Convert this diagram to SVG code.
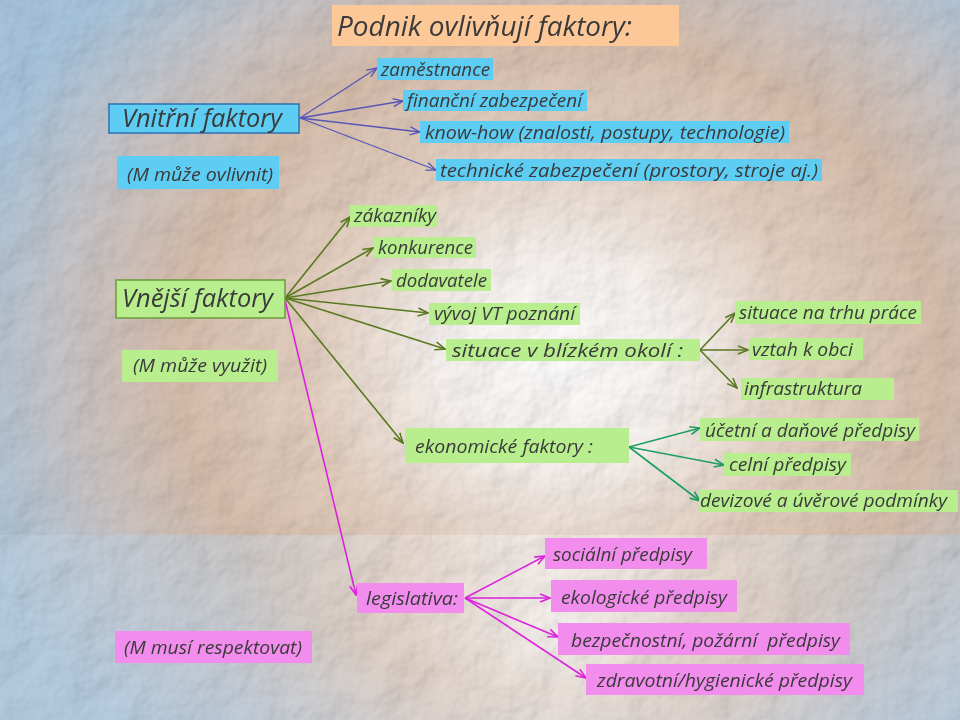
<svg xmlns="http://www.w3.org/2000/svg" width="960" height="720" viewBox="0 0 960 720">
<defs>
<radialGradient id="bg" cx="560" cy="360" r="620" gradientUnits="userSpaceOnUse" gradientTransform="translate(560 360) scale(1 0.85) translate(-560 -360)">
<stop offset="0" stop-color="#FFFFFF"/>
<stop offset="0.2" stop-color="#F8F3F0"/>
<stop offset="0.4" stop-color="#E6D2C3"/>
<stop offset="0.62" stop-color="#D8BFAD"/>
<stop offset="0.8" stop-color="#CAC6C8"/>
<stop offset="1" stop-color="#A9C6DF"/>
</radialGradient>
<radialGradient id="glow" cx="560" cy="620" r="330" gradientUnits="userSpaceOnUse">
<stop offset="0" stop-color="#FFFFFF" stop-opacity="0.8"/>
<stop offset="0.5" stop-color="#F2F0F0" stop-opacity="0.4"/>
<stop offset="1" stop-color="#C4D6E6" stop-opacity="0.5"/>
</radialGradient>
<filter id="tex" x="0" y="0" width="100%" height="100%" filterUnits="userSpaceOnUse">
<feTurbulence type="fractalNoise" baseFrequency="0.022" numOctaves="4" seed="7" result="n"/>
<feDiffuseLighting in="n" lighting-color="#ffffff" surfaceScale="6" result="l">
<feDistantLight azimuth="225" elevation="45"/>
</feDiffuseLighting>
</filter>
<marker id="mb" viewBox="0 0 12 10" refX="11" refY="5" markerWidth="12" markerHeight="10" markerUnits="userSpaceOnUse" orient="auto"><path d="M1,1 L11,5 L1,9" fill="none" stroke="#5656B8" stroke-width="1.4"/></marker>
<marker id="mg" viewBox="0 0 12 10" refX="11" refY="5" markerWidth="12" markerHeight="10" markerUnits="userSpaceOnUse" orient="auto"><path d="M1,1 L11,5 L1,9" fill="none" stroke="#58791F" stroke-width="1.6"/></marker>
<marker id="mt" viewBox="0 0 12 10" refX="11" refY="5" markerWidth="12" markerHeight="10" markerUnits="userSpaceOnUse" orient="auto"><path d="M1,1 L11,5 L1,9" fill="none" stroke="#1F9E62" stroke-width="1.6"/></marker>
<marker id="mp" viewBox="0 0 12 10" refX="11" refY="5" markerWidth="12" markerHeight="10" markerUnits="userSpaceOnUse" orient="auto"><path d="M1,1 L11,5 L1,9" fill="none" stroke="#DD22DD" stroke-width="1.6"/></marker>
</defs>
<style>
text{font-family:"Open Sans","DejaVu Sans",sans-serif;font-style:italic;fill:#3A3A3A;font-size:18px}
.big{font-size:25px}
.title{font-size:28px}
.pk{font-size:19px}
.b{fill:#5ECDF4}
.g{fill:#B9EE8E}
.p{fill:#F28DEE}
.ab{stroke:#5656B8;stroke-width:1.3;fill:none;marker-end:url(#mb)}
.ag{stroke:#58791F;stroke-width:1.6;fill:none;marker-end:url(#mg)}
.at{stroke:#1F9E62;stroke-width:1.6;fill:none;marker-end:url(#mt)}
.ap{stroke:#DD22DD;stroke-width:1.6;fill:none;marker-end:url(#mp)}
</style>
<g id="background">
<rect x="0" y="0" width="960" height="720" fill="url(#bg)"/>
<rect x="0" y="535" width="960" height="185" fill="url(#glow)"/>
<rect x="0" y="0" width="960" height="720" filter="url(#tex)" opacity="0.28" style="mix-blend-mode:multiply"/>
</g>
<g id="connectors">
<line class="ab" x1="300" y1="118" x2="377" y2="68"/>
<line class="ab" x1="300" y1="118" x2="403" y2="101"/>
<line class="ab" x1="300" y1="118" x2="420" y2="132"/>
<line class="ab" x1="300" y1="118" x2="436" y2="170"/>
<line class="ag" x1="285" y1="298" x2="350" y2="217"/>
<line class="ag" x1="285" y1="298" x2="373" y2="248"/>
<line class="ag" x1="285" y1="298" x2="391" y2="281"/>
<line class="ag" x1="285" y1="298" x2="428" y2="313"/>
<line class="ag" x1="285" y1="298" x2="445" y2="349"/>
<line class="ag" x1="285" y1="298" x2="403" y2="443"/>
<line class="ap" x1="285" y1="300" x2="356" y2="595"/>
<line class="ag" x1="700" y1="350" x2="735" y2="313"/>
<line class="ag" x1="700" y1="350" x2="748" y2="350"/>
<line class="ag" x1="700" y1="350" x2="737" y2="388"/>
<line class="at" x1="629" y1="447" x2="700" y2="428"/>
<line class="at" x1="629" y1="447" x2="724" y2="465"/>
<line class="at" x1="629" y1="447" x2="700" y2="501"/>
<line class="ap" x1="465" y1="598" x2="545" y2="556"/>
<line class="ap" x1="465" y1="598" x2="550" y2="598"/>
<line class="ap" x1="465" y1="598" x2="558" y2="637"/>
<line class="ap" x1="465" y1="598" x2="586" y2="678"/>
</g>
<g id="title"><rect x="332" y="5" width="347" height="41" fill="#FDC898"/><text class="title" x="337" y="36" textLength="295" lengthAdjust="spacingAndGlyphs">Podnik ovlivňují faktory:</text></g>
<g id="vnitrni"><rect x="109" y="104" width="190" height="29" class="b" stroke="#2F6FB0" stroke-width="1.5"/><text class="big" x="122" y="127" textLength="160" lengthAdjust="spacingAndGlyphs">Vnitřní faktory</text></g>
<g id="m-ovlivnit"><rect x="117" y="156" width="162" height="33" class="b"/><text x="127" y="181" textLength="146" lengthAdjust="spacingAndGlyphs">(M může ovlivnit)</text></g>
<g id="zamestnance"><rect x="377" y="58" width="116" height="22" class="b"/><text x="381" y="76" textLength="109" lengthAdjust="spacingAndGlyphs">zaměstnance</text></g>
<g id="financni"><rect x="403" y="90" width="184" height="21" class="b"/><text x="407" y="107" textLength="175" lengthAdjust="spacingAndGlyphs">finanční zabezpečení</text></g>
<g id="knowhow"><rect x="420" y="121" width="369" height="22" class="b"/><text x="425" y="139" textLength="360" lengthAdjust="spacingAndGlyphs">know-how (znalosti, postupy, technologie)</text></g>
<g id="technicke"><rect x="436" y="159" width="386" height="22" class="b"/><text x="440" y="177" textLength="378" lengthAdjust="spacingAndGlyphs">technické zabezpečení (prostory, stroje aj.)</text></g>
<g id="vnejsi"><rect x="116" y="280" width="169" height="38" class="g" stroke="#6C9A3C" stroke-width="1.5"/><text class="big" x="122" y="307" textLength="151" lengthAdjust="spacingAndGlyphs">Vnější faktory</text></g>
<g id="m-vyuzit"><rect x="122" y="350" width="156" height="32" class="g"/><text x="133" y="372" textLength="134" lengthAdjust="spacingAndGlyphs">(M může využit)</text></g>
<g id="zakaznici"><rect x="350" y="205" width="88" height="22" class="g"/><text x="354" y="222" textLength="82" lengthAdjust="spacingAndGlyphs">zákazníky</text></g>
<g id="konkurence"><rect x="374" y="237" width="102" height="21" class="g"/><text x="378" y="254" textLength="95" lengthAdjust="spacingAndGlyphs">konkurence</text></g>
<g id="dodavatele"><rect x="392" y="269" width="99" height="22" class="g"/><text x="396" y="287" textLength="91" lengthAdjust="spacingAndGlyphs">dodavatele</text></g>
<g id="vyvoj"><rect x="429" y="303" width="151" height="22" class="g"/><text x="434" y="320" textLength="141" lengthAdjust="spacingAndGlyphs">vývoj VT poznání</text></g>
<g id="situace"><rect x="446" y="339" width="254" height="22" class="g"/><text x="452" y="357" textLength="231" lengthAdjust="spacingAndGlyphs">situace v blízkém okolí :</text></g>
<g id="trh"><rect x="735" y="301" width="186" height="23" class="g"/><text x="739" y="319" textLength="178" lengthAdjust="spacingAndGlyphs">situace na trhu práce</text></g>
<g id="obec"><rect x="749" y="338" width="114" height="22" class="g"/><text x="752" y="356" textLength="101" lengthAdjust="spacingAndGlyphs">vztah k obci</text></g>
<g id="infra"><rect x="741" y="378" width="153" height="22" class="g"/><text x="744" y="395" textLength="118" lengthAdjust="spacingAndGlyphs">infrastruktura</text></g>
<g id="ekonomicke"><rect x="405" y="428" width="224" height="35" class="g"/><text x="415" y="453" textLength="178" lengthAdjust="spacingAndGlyphs">ekonomické faktory :</text></g>
<g id="ucetni"><rect x="700" y="418" width="219" height="23" class="g"/><text x="705" y="437" textLength="210" lengthAdjust="spacingAndGlyphs">účetní a daňové předpisy</text></g>
<g id="celni"><rect x="724" y="453" width="127" height="23" class="g"/><text x="729" y="471" textLength="117" lengthAdjust="spacingAndGlyphs">celní předpisy</text></g>
<g id="devizove"><rect x="699" y="490" width="259" height="22" class="g"/><text x="700" y="507" textLength="247" lengthAdjust="spacingAndGlyphs">devizové a úvěrové podmínky</text></g>
<g id="legislativa"><rect x="357" y="583" width="107" height="30" class="p"/><text class="pk" x="366" y="605" textLength="92" lengthAdjust="spacingAndGlyphs">legislativa:</text></g>
<g id="m-respektovat"><rect x="115" y="631" width="197" height="32" class="p"/><text class="pk" x="124" y="654" textLength="178" lengthAdjust="spacingAndGlyphs">(M musí respektovat)</text></g>
<g id="socialni"><rect x="545" y="538" width="162" height="31" class="p"/><text class="pk" x="553" y="561" textLength="139" lengthAdjust="spacingAndGlyphs">sociální předpisy</text></g>
<g id="ekologicke"><rect x="551" y="580" width="186" height="32" class="p"/><text class="pk" x="561" y="604" textLength="166" lengthAdjust="spacingAndGlyphs">ekologické předpisy</text></g>
<g id="bezpecnostni"><rect x="558" y="623" width="292" height="32" class="p"/><text class="pk" x="571" y="647" textLength="269" lengthAdjust="spacingAndGlyphs" xml:space="preserve">bezpečnostní, požární  předpisy</text></g>
<g id="zdravotni"><rect x="586" y="664" width="278" height="31" class="p"/><text class="pk" x="597" y="687" textLength="255" lengthAdjust="spacingAndGlyphs">zdravotní/hygienické předpisy</text></g>
</svg>
